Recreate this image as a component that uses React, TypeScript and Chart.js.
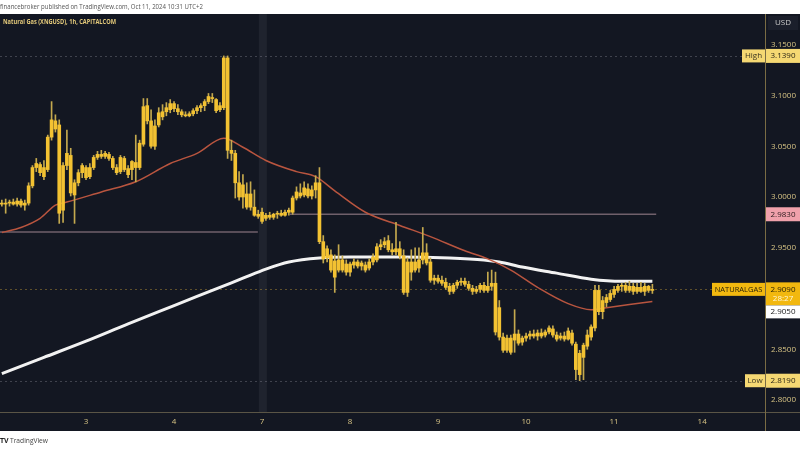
import React, { useEffect, useRef } from 'react';
import { Chart, registerables } from 'chart.js';

Chart.register(...registerables);

// ---------- DATA ----------
const opens = [
  2.994, 2.993, 2.994, 2.995, 2.993, 2.996, 2.992, 2.994, 3.011, 3.029,
  3.032, 3.029, 3.027, 3.059, 3.075, 3.071, 2.987, 3.031, 3.041, 3.002,
  3.014, 3.024, 3.029, 3.020, 3.029, 3.039, 3.042, 3.040, 3.042, 3.038,
  3.029, 3.025, 3.038, 3.028, 3.027, 3.034, 3.029, 3.052, 3.090, 3.075,
  3.050, 3.071, 3.079, 3.084, 3.086, 3.092, 3.087, 3.084, 3.081, 3.080,
  3.082, 3.085, 3.088, 3.090, 3.094, 3.098, 3.096, 3.086, 3.088, 3.137,
  3.046, 3.043, 3.014, 3.000, 3.003, 2.990, 2.990, 2.983, 2.985, 2.979,
  2.982, 2.980, 2.983, 2.984, 2.982, 2.985, 2.985, 2.999, 3.004, 3.002,
  3.008, 3.001, 3.007, 3.014, 2.956, 2.940, 2.943, 2.937, 2.928, 2.938,
  2.934, 2.926, 2.933, 2.936, 2.932, 2.933, 2.930, 2.936, 2.938, 2.951,
  2.953, 2.957, 2.948, 2.946, 2.949, 2.942, 2.906, 2.926, 2.936, 2.930,
  2.938, 2.945, 2.936, 2.918, 2.920, 2.918, 2.916, 2.912, 2.907, 2.913,
  2.916, 2.917, 2.914, 2.910, 2.907, 2.909, 2.913, 2.908, 2.912, 2.915,
  2.891, 2.862, 2.849, 2.861, 2.859, 2.865, 2.857, 2.861, 2.863, 2.865,
  2.863, 2.866, 2.864, 2.867, 2.870, 2.864, 2.861, 2.863, 2.860, 2.866,
  2.855, 2.825, 2.842, 2.853, 2.862, 2.871, 2.908, 2.887, 2.896, 2.899,
  2.904, 2.908, 2.912, 2.913, 2.908, 2.912, 2.907, 2.911, 2.907, 2.912, 2.908,
];
const highs = [
  2.997, 2.998, 2.997, 2.998, 2.999, 2.998, 2.997, 3.014, 3.031, 3.038,
  3.034, 3.036, 3.061, 3.094, 3.081, 3.076, 3.034, 3.066, 3.048, 3.017,
  3.027, 3.033, 3.031, 3.033, 3.041, 3.045, 3.046, 3.045, 3.044, 3.040,
  3.032, 3.041, 3.040, 3.031, 3.036, 3.061, 3.056, 3.097, 3.097, 3.086,
  3.076, 3.088, 3.091, 3.093, 3.096, 3.094, 3.091, 3.086, 3.084, 3.084,
  3.087, 3.090, 3.092, 3.096, 3.102, 3.102, 3.097, 3.093, 3.139, 3.139,
  3.056, 3.046, 3.025, 3.022, 3.014, 3.015, 3.007, 2.987, 2.989, 2.984,
  2.985, 2.984, 2.986, 2.987, 2.987, 2.989, 3.001, 3.010, 3.013, 3.015,
  3.013, 3.011, 3.021, 3.029, 2.962, 2.952, 2.948, 2.943, 2.953, 2.942,
  2.938, 2.936, 2.939, 2.938, 2.937, 2.936, 2.939, 2.944, 2.954, 2.958,
  2.960, 2.962, 2.954, 2.975, 2.956, 2.948, 2.940, 2.948, 2.950, 2.950,
  2.970, 2.954, 2.940, 2.923, 2.923, 2.922, 2.920, 2.915, 2.915, 2.918,
  2.920, 2.920, 2.917, 2.913, 2.912, 2.915, 2.916, 2.926, 2.928, 2.926,
  2.898, 2.866, 2.864, 2.864, 2.889, 2.869, 2.863, 2.866, 2.868, 2.869,
  2.869, 2.870, 2.869, 2.873, 2.873, 2.867, 2.866, 2.867, 2.871, 2.869,
  2.857, 2.849, 2.856, 2.869, 2.874, 2.913, 2.913, 2.902, 2.904, 2.908,
  2.912, 2.914, 2.915, 2.916, 2.917, 2.915, 2.915, 2.916, 2.915, 2.913, 2.914,
];
const lows = [
  2.991, 2.984, 2.991, 2.992, 2.991, 2.990, 2.987, 2.992, 3.009, 3.025,
  3.021, 3.017, 3.025, 3.056, 3.064, 2.974, 2.975, 3.027, 3.001, 2.974,
  3.011, 3.019, 3.017, 3.018, 3.027, 3.037, 3.038, 3.038, 3.036, 3.027,
  3.022, 3.023, 3.025, 3.019, 3.017, 3.015, 3.027, 3.050, 3.072, 3.048,
  3.047, 3.069, 3.076, 3.080, 3.083, 3.084, 3.081, 3.079, 3.079, 3.079,
  3.080, 3.082, 3.084, 3.085, 3.092, 3.093, 3.083, 3.084, 3.086, 3.038,
  3.036, 2.999, 2.997, 2.989, 2.988, 2.987, 2.981, 2.979, 2.974, 2.977,
  2.978, 2.978, 2.979, 2.981, 2.981, 2.982, 2.983, 2.997, 2.999, 3.000,
  2.999, 2.998, 2.999, 2.954, 2.935, 2.936, 2.926, 2.906, 2.926, 2.926,
  2.923, 2.922, 2.930, 2.930, 2.928, 2.926, 2.928, 2.933, 2.936, 2.948,
  2.950, 2.946, 2.943, 2.943, 2.939, 2.904, 2.902, 2.918, 2.926, 2.926,
  2.934, 2.933, 2.916, 2.914, 2.915, 2.913, 2.909, 2.904, 2.905, 2.910,
  2.913, 2.912, 2.908, 2.904, 2.905, 2.906, 2.906, 2.906, 2.908, 2.864,
  2.859, 2.847, 2.847, 2.845, 2.847, 2.854, 2.854, 2.858, 2.860, 2.861,
  2.859, 2.861, 2.862, 2.865, 2.862, 2.858, 2.859, 2.858, 2.859, 2.854,
  2.820, 2.819, 2.820, 2.850, 2.859, 2.868, 2.884, 2.880, 2.892, 2.897,
  2.901, 2.906, 2.907, 2.906, 2.906, 2.904, 2.905, 2.906, 2.903, 2.906, 2.905,
];
const closes = [
  2.993, 2.994, 2.995, 2.993, 2.996, 2.992, 2.994, 3.011, 3.029, 3.033,
  3.024, 3.020, 3.059, 3.076, 3.067, 2.984, 3.031, 3.043, 3.004, 3.014,
  3.024, 3.031, 3.019, 3.029, 3.039, 3.042, 3.040, 3.043, 3.038, 3.029,
  3.024, 3.039, 3.027, 3.022, 3.035, 3.029, 3.053, 3.089, 3.075, 3.050,
  3.070, 3.083, 3.084, 3.088, 3.092, 3.087, 3.084, 3.081, 3.080, 3.082,
  3.085, 3.088, 3.090, 3.094, 3.099, 3.097, 3.085, 3.090, 3.137, 3.046,
  3.043, 3.014, 3.000, 3.012, 2.990, 3.003, 2.982, 2.981, 2.976, 2.982,
  2.980, 2.983, 2.984, 2.982, 2.985, 2.987, 2.999, 3.005, 3.001, 3.009,
  3.001, 3.007, 3.014, 2.956, 2.939, 2.949, 2.928, 2.921, 2.938, 2.928,
  2.926, 2.934, 2.936, 2.932, 2.935, 2.928, 2.936, 2.941, 2.951, 2.953,
  2.956, 2.948, 2.946, 2.949, 2.942, 2.906, 2.936, 2.936, 2.928, 2.938,
  2.945, 2.935, 2.918, 2.920, 2.917, 2.915, 2.911, 2.907, 2.913, 2.916,
  2.917, 2.914, 2.910, 2.907, 2.909, 2.913, 2.908, 2.912, 2.915, 2.867,
  2.862, 2.849, 2.861, 2.847, 2.865, 2.856, 2.861, 2.863, 2.865, 2.863,
  2.866, 2.863, 2.867, 2.871, 2.864, 2.860, 2.863, 2.860, 2.868, 2.856,
  2.830, 2.846, 2.854, 2.864, 2.872, 2.908, 2.887, 2.898, 2.901, 2.905,
  2.909, 2.912, 2.913, 2.908, 2.912, 2.907, 2.911, 2.907, 2.912, 2.908, 2.909,
];
const firstCandleIndex = 1;

// Moving averages (read at sampled candle indices)
const fastMaIdx = [1, 6, 11, 15, 18, 27, 36, 45, 52, 59, 64, 70, 78, 83, 88, 96, 105, 113, 122, 128, 134, 141, 149, 155, 159, 165, 171];
const fastMaVal = [2.965, 2.970, 2.979, 2.992, 2.995, 3.005, 3.015, 3.033, 3.043, 3.058, 3.049, 3.036, 3.025, 3.020, 3.006, 2.985, 2.972, 2.961, 2.947, 2.939, 2.928, 2.911, 2.895, 2.889, 2.891, 2.894, 2.897];
const slowMaIdx = [1, 12, 23, 34, 46, 58, 64, 70, 76, 84, 92, 105, 118, 127, 131, 137, 146, 155, 163, 171];
const slowMaVal = [2.826, 2.842, 2.858, 2.875, 2.893, 2.911, 2.920, 2.929, 2.936, 2.940, 2.941, 2.941, 2.940, 2.938, 2.936, 2.931, 2.925, 2.919, 2.917, 2.917];

// Axis ticks
const dayTickIdx = [23, 46, 69, 92, 115, 138, 161, 184];
const dayTickLabels = ['3', '4', '7', '8', '9', '10', '11', '14'];
const priceTicks = [2.80, 2.85, 2.90, 2.95, 3.00, 3.05, 3.10, 3.15];

// Levels & labels
const highPrice = 3.139;
const lowPrice = 2.819;
const lastPrice = 2.909;
const maLabelPrice = 2.905;
const resistanceLevel = 2.983;
const oldLevel = 2.9655;
const resistanceStartIdx = 76.3;
const resistanceEndIdx = 172;
const oldLevelEndIdx = 67.9;
const weekendIdx = 69.2;
const countdown = '28:27';
const symbolName = 'NATURALGAS';
const titleText = 'Natural Gas (XNGUSD), 1h, CAPITALCOM';
const publishText = 'financebroker published on TradingView.com, Oct 11, 2024 10:31 UTC+2';

const X_MIN = 0.52;
const X_MAX = 200.43;
const Y_MIN = 2.78818;
const Y_MAX = 3.18030;

const BG = '#131722';
const TICK_COLOR = '#d6c384';
const FONT = "'Open Sans', 'DejaVu Sans', sans-serif";

function box(ctx: CanvasRenderingContext2D, x: number, y: number, w: number, h: number, fill: string) {
  ctx.fillStyle = fill;
  ctx.fillRect(x, y, w, h);
}
function txt(ctx: CanvasRenderingContext2D, s: string, x: number, y: number, color: string, font: string, align: CanvasTextAlign = 'center', maxW?: number) {
  ctx.fillStyle = color;
  ctx.font = font;
  ctx.textAlign = align;
  ctx.textBaseline = 'middle';
  if (maxW) ctx.fillText(s, x, y, maxW);
  else ctx.fillText(s, x, y);
}

const tvPlugin = {
  id: 'tvDecor',
  beforeDraw(chart: any) {
    const { ctx, width, height } = chart;
    const xs = chart.scales.x;
    ctx.save();
    ctx.fillStyle = '#ffffff';
    ctx.fillRect(0, 0, width, height);
    ctx.fillStyle = BG;
    ctx.fillRect(0, 14, width, 417);
    const bx = xs.getPixelForValue(weekendIdx);
    ctx.fillStyle = 'rgba(255,255,255,0.055)';
    ctx.fillRect(bx - 4, 14, 8, 398);
    ctx.restore();
  },
  beforeDatasetsDraw(chart: any) {
    const { ctx } = chart;
    const xs = chart.scales.x;
    const ys = chart.scales.y;
    const area = chart.chartArea;
    ctx.save();
    // high / low dashed lines
    ctx.setLineDash([2, 3]);
    ctx.lineWidth = 1;
    ctx.strokeStyle = 'rgba(150,150,160,0.35)';
    [highPrice, lowPrice].forEach((p) => {
      const y = Math.round(ys.getPixelForValue(p)) + 0.5;
      ctx.beginPath(); ctx.moveTo(area.left, y); ctx.lineTo(area.right, y); ctx.stroke();
    });
    ctx.strokeStyle = 'rgba(240,190,60,0.35)';
    const yl = Math.round(ys.getPixelForValue(lastPrice)) + 0.5;
    ctx.beginPath(); ctx.moveTo(area.left, yl); ctx.lineTo(area.right, yl); ctx.stroke();
    ctx.setLineDash([]);
    // user horizontal levels
    ctx.lineWidth = 1.5;
    ctx.strokeStyle = 'rgba(205,170,180,0.5)';
    const yr = ys.getPixelForValue(resistanceLevel);
    ctx.beginPath(); ctx.moveTo(xs.getPixelForValue(resistanceStartIdx), yr); ctx.lineTo(xs.getPixelForValue(resistanceEndIdx), yr); ctx.stroke();
    const yo = ys.getPixelForValue(oldLevel);
    ctx.beginPath(); ctx.moveTo(area.left, yo); ctx.lineTo(xs.getPixelForValue(oldLevelEndIdx), yo); ctx.stroke();
    ctx.restore();
  },
  afterDraw(chart: any) {
    const { ctx, width } = chart;
    const ys = chart.scales.y;
    const f8 = `8px ${FONT}`;
    ctx.save();
    // axis separator lines
    ctx.strokeStyle = '#5a5546';
    ctx.lineWidth = 1;
    ctx.beginPath(); ctx.moveTo(0, 412.5); ctx.lineTo(width, 412.5); ctx.stroke();
    ctx.strokeStyle = '#7a6c44';
    ctx.beginPath(); ctx.moveTo(765.5, 14); ctx.lineTo(765.5, 431); ctx.stroke();

    // top strip
    txt(ctx, publishText, 0, 7, '#555555', `7px ${FONT}`, 'left', 203);
    // title
    txt(ctx, titleText, 3, 22, '#e3c97a', `bold 7px ${FONT}`, 'left', 113);
    // USD
    box(ctx, 768, 16, 30, 14, '#1b1f2b');
    txt(ctx, 'USD', 783, 23, '#c9c9c9', f8);

    // High
    const yh = ys.getPixelForValue(highPrice);
    box(ctx, 742, yh - 6.5, 23, 13, '#f5d873');
    txt(ctx, 'High', 753.5, yh, '#3a3520', f8);
    box(ctx, 766, yh - 7, 34, 14, '#f5d873');
    txt(ctx, highPrice.toFixed(4), 783, yh, '#2a2515', f8);

    // resistance level
    const yr = ys.getPixelForValue(resistanceLevel);
    box(ctx, 766, yr - 7, 34, 14, '#f0a1ab');
    txt(ctx, resistanceLevel.toFixed(4), 783, yr, '#2a1a1c', f8);

    // last price
    const yl = ys.getPixelForValue(lastPrice);
    box(ctx, 712, yl - 6.5, 53, 13, '#f2b80f');
    txt(ctx, symbolName, 738.5, yl, '#2a2208', `7.5px ${FONT}`, 'center', 50);
    box(ctx, 766, yl - 7, 34, 23, '#f2b80f');
    txt(ctx, lastPrice.toFixed(4), 783, yl, '#2a2208', f8);
    txt(ctx, countdown, 783, yl + 9, '#fff6d8', f8);
    // MA label (white)
    box(ctx, 766, yl + 16, 34, 13, '#ffffff');
    txt(ctx, maLabelPrice.toFixed(4), 783, yl + 22.5, '#222222', f8);

    // Low
    const ylo = ys.getPixelForValue(lowPrice);
    box(ctx, 745, ylo - 6.5, 20, 13, '#f5d873');
    txt(ctx, 'Low', 755, ylo, '#3a3520', f8);
    box(ctx, 766, ylo - 7, 34, 14, '#f5d873');
    txt(ctx, lowPrice.toFixed(4), 783, ylo, '#2a2515', f8);

    // bottom logo
    txt(ctx, 'TV', 0, 441, '#1e1e1e', `bold 7px ${FONT}`, 'left');
    txt(ctx, 'TradingView', 10, 441, '#444444', `7px ${FONT}`, 'left', 38);
    ctx.restore();
  },
};

export default function App() {
  const ref = useRef<HTMLCanvasElement | null>(null);

  useEffect(() => {
    const canvas = ref.current;
    if (!canvas) return;
    const idx = opens.map((_, k) => firstCandleIndex + k);
    const wickData = idx.map((x, k) => ({
      x,
      y: [Math.min(lows[k], opens[k], closes[k]), Math.max(highs[k], opens[k], closes[k])],
    }));
    const bodyData = idx.map((x, k) => ({
      x,
      y: [Math.min(opens[k], closes[k]), Math.max(opens[k], closes[k])],
    }));
    const fastData = fastMaIdx.map((x, k) => ({ x, y: fastMaVal[k] }));
    const slowData = slowMaIdx.map((x, k) => ({ x, y: slowMaVal[k] }));

    const chart = new Chart(canvas, {
      type: 'bar',
      data: {
        datasets: [
          {
            type: 'line',
            data: slowData as any,
            borderColor: '#f2f2f2',
            borderWidth: 3,
            pointRadius: 0,
            cubicInterpolationMode: 'monotone',
            order: 4,
          } as any,
          {
            type: 'line',
            data: fastData as any,
            borderColor: '#b9553f',
            borderWidth: 1.5,
            pointRadius: 0,
            cubicInterpolationMode: 'monotone',
            order: 3,
          } as any,
          {
            type: 'bar',
            data: wickData as any,
            backgroundColor: '#c4a94e',
            barThickness: 1,
            grouped: false,
            borderWidth: 0,
            order: 2,
          } as any,
          {
            type: 'bar',
            data: bodyData as any,
            backgroundColor: '#f3c232',
            barThickness: 3,
            minBarLength: 1,
            grouped: false,
            borderWidth: 0,
            order: 1,
          } as any,
        ],
      },
      options: {
        responsive: false,
        animation: false,
        events: [],
        layout: { padding: { top: 14, bottom: 19, left: 0, right: 0 } },
        plugins: { legend: { display: false }, tooltip: { enabled: false } },
        scales: {
          x: {
            type: 'linear',
            min: X_MIN,
            max: X_MAX,
            offset: false,
            grid: { display: false, drawTicks: false, offset: false },
            border: { display: false },
            ticks: {
              color: TICK_COLOR,
              font: { size: 8, family: FONT },
              padding: 5,
              maxRotation: 0,
              autoSkip: false,
              callback: (_v: any, i: number) => dayTickLabels[i],
            },
            afterBuildTicks: (s: any) => {
              s.ticks = dayTickIdx.map((v) => ({ value: v }));
            },
            afterFit: (s: any) => {
              s.height = 19;
            },
          },
          y: {
            type: 'linear',
            position: 'right',
            min: Y_MIN,
            max: Y_MAX,
            grid: { display: false, drawTicks: false },
            border: { display: false },
            ticks: {
              color: TICK_COLOR,
              font: { size: 8, family: FONT },
              padding: 6,
              callback: (v: any) => Number(v).toFixed(4),
            },
            afterBuildTicks: (s: any) => {
              s.ticks = priceTicks.map((v) => ({ value: v }));
            },
            afterFit: (s: any) => {
              s.width = 35;
            },
          },
        },
      } as any,
      plugins: [tvPlugin],
    });
    return () => chart.destroy();
  }, []);

  return (
    <div style={{ position: 'fixed', left: 0, top: 0, width: 800, height: 450 }}>
      <canvas ref={ref} width={800} height={450} style={{ display: 'block', width: 800, height: 450 }} />
    </div>
  );
}
